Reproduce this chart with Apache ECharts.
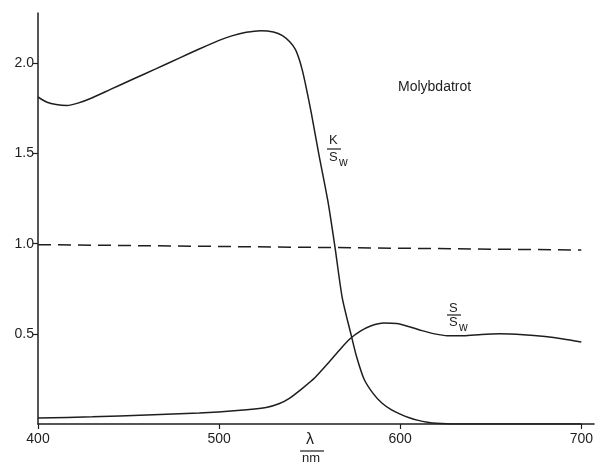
<!DOCTYPE html>
<html>
<head>
<meta charset="utf-8">
<script src="https://cdn.jsdelivr.net/npm/echarts@6/dist/echarts.min.js"></script>
<style>
html,body{margin:0;padding:0;background:#fff;}
#c{width:596px;height:463px;}
</style>
</head>
<body>
<div id="c"></div>
<script>
// ---- data ----
const xTicks = [400, 500, 600, 700];
const yTicks = [0.5, 1.0, 1.5, 2.0];

const kWl  = [400,405,410,416,422,429,440,452,465,478,489,500,507,515,523,530,535,539,542,544,546,548,551,555,560,564,568,573,576,580,585,590,595,600,605,610,615,620,630,700];
const kVal = [1.814,1.785,1.772,1.767,1.78,1.806,1.856,1.911,1.97,2.03,2.08,2.128,2.153,2.173,2.182,2.175,2.155,2.12,2.08,2.03,1.96,1.87,1.72,1.50,1.24,0.98,0.70,0.49,0.37,0.25,0.17,0.115,0.08,0.055,0.035,0.02,0.01,0.004,0,0];

const sWl  = [400,430,460,489,510,526,533,539,546,553,560,566,572,578,584,591,598,605,612,619,626,635,645,655,668,680,690,700];
const sVal = [0.033,0.04,0.05,0.061,0.075,0.092,0.112,0.144,0.198,0.258,0.335,0.405,0.47,0.515,0.545,0.56,0.557,0.54,0.518,0.5,0.49,0.49,0.497,0.5,0.495,0.485,0.472,0.455];

const refWl  = [400, 700];
const refVal = [0.995, 0.965];

const zip = (a, b) => a.map((v, i) => [v, b[i]]);

const ink = '#1e1e1e';
const font = 'Liberation Sans';

const chart = echarts.init(document.getElementById('c'), null, {renderer: 'canvas'});
chart.setOption({
  animation: false,
  backgroundColor: '#fff',
  grid: {left: 38, right: 0, top: 13, bottom: 39, containLabel: false},
  xAxis: {
    type: 'value', min: 400, max: 707, interval: 100,
    axisLine: {show: true, onZero: false, lineStyle: {color: ink, width: 1.5}},
    axisTick: {show: true, customValues: xTicks, length: 5, lineStyle: {color: ink, width: 1.2}},
    axisLabel: {customValues: xTicks, color: ink, fontFamily: font, fontSize: 14, margin: 8},
    splitLine: {show: false}
  },
  yAxis: {
    type: 'value', min: 0, max: 2.28, interval: 0.5,
    axisLine: {show: true, lineStyle: {color: ink, width: 1.5}},
    axisTick: {show: true, customValues: yTicks, length: 5, lineStyle: {color: ink, width: 1.2}},
    axisLabel: {customValues: yTicks, color: ink, fontFamily: font, fontSize: 14, margin: 4,
      formatter: v => v.toFixed(1)},
    splitLine: {show: false}
  },
  series: [
    {type: 'line', data: zip(kWl, kVal), smooth: 0.25, symbol: 'none',
     lineStyle: {color: ink, width: 1.5}},
    {type: 'line', data: zip(sWl, sVal), smooth: 0.25, symbol: 'none',
     lineStyle: {color: ink, width: 1.5}},
    {type: 'line', data: zip(refWl, refVal), symbol: 'none',
     lineStyle: {color: ink, width: 1.5, type: [13, 7]}}
  ],
  graphic: [
    {type: 'text', left: 398, top: 80, style: {text: 'Molybdatrot', font: '14px ' + font, fill: ink}},
    // K / S_w
    {type: 'text', left: 329, top: 134, style: {text: 'K', font: '13px ' + font, fill: ink}},
    {type: 'line', shape: {x1: 327, y1: 149, x2: 341, y2: 149}, style: {stroke: ink, lineWidth: 1.2}},
    {type: 'text', left: 329, top: 151, style: {text: 'S', font: '13px ' + font, fill: ink}},
    {type: 'text', left: 339, top: 157, style: {text: 'w', font: '12px ' + font, fill: ink}},
    // S / S_w
    {type: 'text', left: 449, top: 302, style: {text: 'S', font: '13px ' + font, fill: ink}},
    {type: 'line', shape: {x1: 447, y1: 315, x2: 461, y2: 315}, style: {stroke: ink, lineWidth: 1.2}},
    {type: 'text', left: 449, top: 316, style: {text: 'S', font: '13px ' + font, fill: ink}},
    {type: 'text', left: 459, top: 322, style: {text: 'w', font: '12px ' + font, fill: ink}},
    // lambda / nm
    {type: 'text', left: 306, top: 432, style: {text: 'λ', font: '16px ' + font, fill: ink}},
    {type: 'line', shape: {x1: 300, y1: 451, x2: 324, y2: 451}, style: {stroke: ink, lineWidth: 1.2}},
    {type: 'text', left: 302, top: 452, style: {text: 'nm', font: '13px ' + font, fill: ink}}
  ]
});
</script>
</body>
</html>
